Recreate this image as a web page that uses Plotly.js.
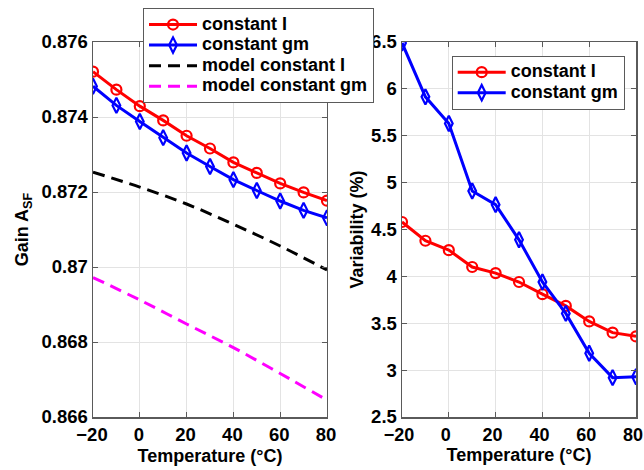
<!DOCTYPE html>
<html>
<head>
<meta charset="utf-8">
<script src="https://cdn.plot.ly/plotly-3.0.1.min.js"></script>
<style>html,body{margin:0;padding:0;background:#fff}</style>
</head>
<body>
<div id="chart" style="width:644px;height:470px"></div>
<script>
// Temperatures (°C)
const temps = [-20, -10, 0, 10, 20, 30, 40, 50, 60, 70, 80];
const modelTemps = [-20, 0, 20, 40, 60, 80];

// Left panel: gain A_SF
const gainConstI  = [0.87521, 0.87473, 0.87429, 0.87391, 0.87350, 0.87316, 0.87279, 0.87251, 0.87223, 0.87199, 0.87177];
const gainConstGm = [0.87482, 0.87431, 0.87388, 0.87345, 0.87304, 0.87268, 0.87233, 0.87204, 0.87176, 0.87151, 0.87131];
const modelGainI  = [0.87253, 0.87213, 0.87168, 0.87114, 0.87056, 0.86992];
const modelGainGm = [0.86972, 0.86912, 0.86848, 0.86785, 0.86716, 0.86645];

// Right panel: variability (%)
const varConstI  = [4.58, 4.38, 4.28, 4.10, 4.035, 3.94, 3.81, 3.685, 3.52, 3.40, 3.36];
const varConstGm = [6.49, 5.915, 5.63, 4.91, 4.765, 4.39, 3.94, 3.605, 3.18, 2.92, 2.93];

// Series names and tick labels
const seriesNames = ['constant I', 'constant gm', 'model constant I', 'model constant gm'];
const xTicks = [-20, 0, 20, 40, 60, 80];
const gainTicks = [0.866, 0.868, 0.87, 0.872, 0.874, 0.876];
const gainTickText = ['0.866', '0.868', '0.87', '0.872', '0.874', '0.876'];
const varTicks = [2.5, 3, 3.5, 4, 4.5, 5, 5.5, 6, 6.5];
const varTickText = ['2.5', '3', '3.5', '4', '4.5', '5', '5.5', '6', '6.5'];

const FAMILY = 'Liberation Sans, Arial, sans-serif';
const FONT = {family: FAMILY, size: 18, color: '#000', weight: 'bold'};
const TICKFONT = {family: FAMILY, size: 18.5, color: '#000', weight: 'bold'};
const X2TICKFONT = {family: FAMILY, size: 18, color: '#000', weight: 'bold'};
const LEGFONT = {family: FAMILY, size: 13.5, color: '#000', weight: 'bold'};
const RED = '#ff0000', BLUE = '#0000ff';
const lg = s => '<span style="font-size:18px">' + s + '</span>';

const traces = [
  {x: temps, y: gainConstI, name: lg(seriesNames[0]), mode: 'lines+markers', xaxis: 'x', yaxis: 'y', legend: 'legend',
   line: {color: RED, width: 3}, marker: {symbol: 'circle-open', size: 10, color: RED, line: {width: 2.2, color: RED}}},
  {x: temps, y: gainConstGm, name: lg(seriesNames[1]), mode: 'lines+markers', xaxis: 'x', yaxis: 'y', legend: 'legend',
   line: {color: BLUE, width: 3}, marker: {symbol: 'diamond-tall-open', size: 11, color: BLUE, line: {width: 2.2, color: BLUE}}},
  {x: modelTemps, y: modelGainI, name: lg(seriesNames[2]), mode: 'lines', xaxis: 'x', yaxis: 'y', legend: 'legend',
   line: {color: '#000', width: 3, dash: '12px,7px', shape: 'spline'}},
  {x: modelTemps, y: modelGainGm, name: lg(seriesNames[3]), mode: 'lines', xaxis: 'x', yaxis: 'y', legend: 'legend',
   line: {color: '#ff00ff', width: 3, dash: '12px,7px', shape: 'spline'}},
  {x: temps, y: varConstI, name: lg(seriesNames[0]), mode: 'lines+markers', xaxis: 'x2', yaxis: 'y2', legend: 'legend2',
   line: {color: RED, width: 3}, marker: {symbol: 'circle-open', size: 10, color: RED, line: {width: 2.2, color: RED}}},
  {x: temps, y: varConstGm, name: lg(seriesNames[1]), mode: 'lines+markers', xaxis: 'x2', yaxis: 'y2', legend: 'legend2',
   line: {color: BLUE, width: 3}, marker: {symbol: 'diamond-tall-open', size: 11, color: BLUE, line: {width: 2.2, color: BLUE}}}
];

const axisCommon = {
  showline: true, linecolor: '#5a5a5a', linewidth: 1.5, mirror: 'ticks',
  ticks: 'inside', ticklen: 5, tickcolor: '#5a5a5a',
  showgrid: true, gridcolor: '#e3e3e3', gridwidth: 1, zeroline: false,
  tickfont: TICKFONT, ticklabeloverflow: 'allow'
};

const legendCommon = {
  font: LEGFONT, bgcolor: '#ffffff', bordercolor: '#5a5a5a', borderwidth: 1,
  xanchor: 'left', yanchor: 'top', tracegroupgap: 0, itemwidth: 48
};

const layout = {
  width: 644, height: 470,
  margin: {l: 93, r: 8, t: 40, b: 53},
  paper_bgcolor: '#fff', plot_bgcolor: '#fff',
  font: FONT,
  showlegend: true,
  xaxis: Object.assign({}, axisCommon, {domain: [0, 0.4309], anchor: 'y', range: [-20, 80], ticklabelshift: -1,
    tickvals: xTicks, title: {text: 'Temperature (°C)', font: FONT, standoff: 5}}),
  yaxis: Object.assign({}, axisCommon, {domain: [0, 1], anchor: 'x', range: [0.866, 0.876],
    tickvals: gainTicks, ticktext: gainTickText, title: {text: 'Gain A<sub>SF</sub>', font: FONT, standoff: 8}}),
  xaxis2: Object.assign({}, axisCommon, {domain: [0.5691, 1], anchor: 'y2', range: [-20, 80], ticklabelshift: -3,
    ticklabelstandoff: 1, tickfont: X2TICKFONT,
    tickvals: xTicks, title: {text: 'Temperature (°C)', font: FONT, standoff: 4}}),
  yaxis2: Object.assign({}, axisCommon, {domain: [0, 1], anchor: 'x2', range: [2.5, 6.5],
    tickvals: varTicks, ticktext: varTickText, title: {text: 'Variability (%)', font: FONT, standoff: 3}}),
  legend: Object.assign({}, legendCommon, {x: 0.0921, y: 1.09}),
  legend2: Object.assign({}, legendCommon, {x: 0.6606, y: 0.963})
};

Plotly.newPlot('chart', traces, layout, {displayModeBar: false, staticPlot: true});
</script>
</body>
</html>
